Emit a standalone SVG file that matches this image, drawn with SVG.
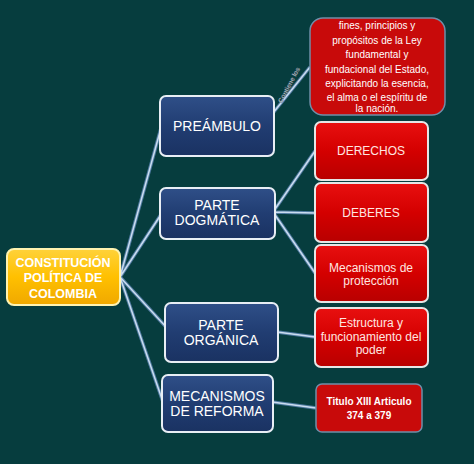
<svg xmlns="http://www.w3.org/2000/svg" width="474" height="464" viewBox="0 0 474 464">
<defs>
<linearGradient id="gBlue" x1="0" y1="0" x2="0" y2="1">
<stop offset="0" stop-color="#2f4f88"/><stop offset="0.5" stop-color="#213d72"/><stop offset="1" stop-color="#1a3262"/>
</linearGradient>
<linearGradient id="gRed" x1="0" y1="0" x2="0" y2="1">
<stop offset="0" stop-color="#e81010"/><stop offset="0.5" stop-color="#d40000"/><stop offset="1" stop-color="#b80000"/>
</linearGradient>
<linearGradient id="gYel" x1="0" y1="0" x2="0" y2="1">
<stop offset="0" stop-color="#ffd23a"/><stop offset="0.5" stop-color="#ffc000"/><stop offset="1" stop-color="#f0a800"/>
</linearGradient>
</defs>
<style>
.blue{fill:url(#gBlue);stroke:#e8eef5;stroke-width:2}
.red{fill:url(#gRed);stroke:#e6e6e6;stroke-width:2}
.red2{fill:#c80a0a;stroke:#6f8ea8;stroke-width:1.5}
.yel{fill:url(#gYel);stroke:#fff3b0;stroke-width:2}
.bt{font-family:"Liberation Sans",Arial,sans-serif;font-size:14px;fill:#ffffff;text-anchor:middle}
.yt{font-family:"Liberation Sans",Arial,sans-serif;font-size:12.5px;font-weight:bold;fill:#ffffff;text-anchor:middle}
.rt{font-family:"Liberation Sans",Arial,sans-serif;font-size:12px;fill:#ffe6e0;text-anchor:middle}
.rs{font-family:"Liberation Sans",Arial,sans-serif;font-size:10px;fill:#ffffff;text-anchor:middle}
.conn path{fill:none;stroke:#4f7aa0;stroke-width:3.5}
.conn path.in{stroke:#c9dcef;stroke-width:1.5}
</style>
<rect width="474" height="464" fill="#063d3e"/>
<g id="connectors" class="conn">
<path d="M120,277 L161,128 M120,277 L162,213 M120,277 L167,328 M120,277 L163,402 M273,113 L310,67 M273,212 L315,151 M273,212 L315,213 M273,212 L315,273 M277,332 L315,337 M272,402 L316,408"/>
<path class="in" d="M120,277 L161,128 M120,277 L162,213 M120,277 L167,328 M120,277 L163,402 M273,113 L310,67 M273,212 L315,151 M273,212 L315,213 M273,212 L315,273 M277,332 L315,337 M272,402 L316,408"/>
<text x="291" y="86" transform="rotate(-62 291 86)" font-family="Liberation Sans,Arial,sans-serif" font-size="6.5" font-weight="bold" fill="#e8ecf2" stroke="#2a3a4a" stroke-width="0.3" text-anchor="middle">Contiene los</text>
</g>
<g id="constitucion">
<rect class="yel" x="7" y="249" width="113" height="56" rx="7"/>
<text class="yt" x="63" y="267">CONSTITUCIÓN</text>
<text class="yt" x="63" y="282">POLÍTICA DE</text>
<text class="yt" x="63" y="298">COLOMBIA</text>
</g>
<g id="preambulo">
<rect class="blue" x="160" y="96" width="114" height="60" rx="6"/>
<text class="bt" x="217" y="131">PREÁMBULO</text>
</g>
<g id="dogmatica">
<rect class="blue" x="160" y="188" width="115" height="51" rx="6"/>
<text class="bt" x="217" y="210">PARTE</text>
<text class="bt" x="217" y="225">DOGMÁTICA</text>
</g>
<g id="organica">
<rect class="blue" x="165" y="303" width="113" height="59" rx="6"/>
<text class="bt" x="221" y="330">PARTE</text>
<text class="bt" x="221" y="345">ORGÁNICA</text>
</g>
<g id="reforma">
<rect class="blue" x="162" y="375" width="111" height="57" rx="6"/>
<text class="bt" x="217" y="401">MECANISMOS</text>
<text class="bt" x="217" y="416">DE REFORMA</text>
</g>
<g id="fines">
<rect class="red2" x="310" y="18" width="135" height="97" rx="13"/>
<text class="rs" x="377" y="29">fines, principios y</text>
<text class="rs" x="377" y="44">propósitos de la Ley</text>
<text class="rs" x="377" y="58">fundamental y</text>
<text class="rs" x="377" y="73">fundacional del Estado,</text>
<text class="rs" x="377" y="87">explicitando la esencia,</text>
<text class="rs" x="377" y="101">el alma o el espíritu de</text>
<text class="rs" x="377" y="112">la nación.</text>
</g>
<g id="derechos">
<rect class="red" x="315" y="122" width="113" height="58" rx="6"/>
<text class="rt" x="371" y="155">DERECHOS</text>
</g>
<g id="deberes">
<rect class="red" x="315" y="183" width="113" height="59" rx="6"/>
<text class="rt" x="371" y="217">DEBERES</text>
</g>
<g id="proteccion">
<rect class="red" x="315" y="245" width="113" height="57" rx="6"/>
<text class="rt" x="371" y="272">Mecanismos de</text>
<text class="rt" x="371" y="285">protección</text>
</g>
<g id="estructura">
<rect class="red" x="315" y="308" width="113" height="59" rx="6"/>
<text class="rt" x="371" y="327">Estructura y</text>
<text class="rt" x="371" y="341">funcionamiento del</text>
<text class="rt" x="371" y="354">poder</text>
</g>
<g id="titulo">
<rect class="red2" x="316" y="384" width="106" height="48" rx="6"/>
<text class="rs" x="369" y="405" font-weight="bold" font-size="9.5">Titulo XIII Articulo</text>
<text class="rs" x="369" y="419" font-weight="bold" font-size="9.5">374 a 379</text>
</g>
</svg>
